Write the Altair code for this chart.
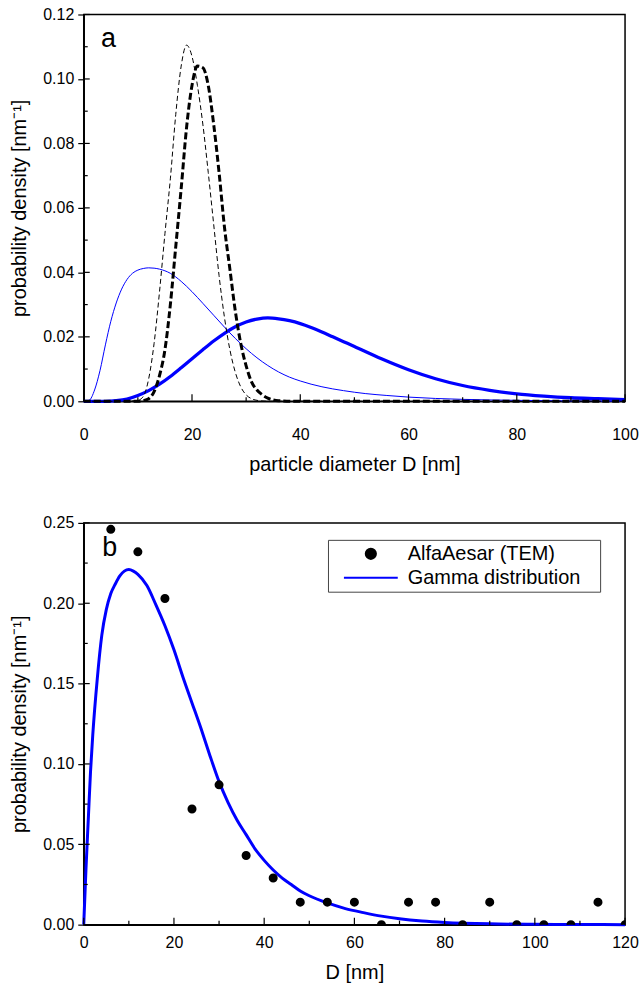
import altair as alt
import pandas as pd

FONT = "Liberation Sans"

# ---------------- Panel a data ----------------
D_thin_blue = [0, 1, 2, 3, 4, 5, 6, 7, 8, 9, 10, 11, 12, 13, 14, 16, 18, 20, 22, 24, 26, 28,
               30, 32, 34, 36, 38, 40, 44, 48, 52, 56, 60, 70, 80, 90, 100]
v_thin_blue = [0, 0.0003, 0.0035, 0.0095, 0.0175, 0.0248, 0.0305, 0.0348, 0.0378, 0.0397,
               0.0407, 0.0412, 0.0414, 0.0413, 0.041, 0.0397, 0.0372, 0.0340, 0.0304, 0.0267,
               0.0230, 0.0195, 0.0163, 0.0135, 0.0111, 0.0091, 0.0075, 0.0063, 0.0045, 0.0033,
               0.0024, 0.0018, 0.0013, 0.0006, 0.0003, 0.0001, 0]

D_thick_blue = [0, 4, 6, 8, 10, 12, 14, 16, 18, 20, 22, 24, 26, 28, 30, 32, 34, 36, 38, 40,
                42, 44, 46, 48, 50, 55, 60, 65, 70, 75, 80, 85, 90, 95, 100]
v_thick_blue = [0, 0.0, 0.0002, 0.0007, 0.0018, 0.0033, 0.0053, 0.0077, 0.0104, 0.0132, 0.016,
                0.0187, 0.0211, 0.0231, 0.0246, 0.0255, 0.0259, 0.0256, 0.0250, 0.0241, 0.0229,
                0.0215, 0.0200, 0.0185, 0.0170, 0.0132, 0.0098, 0.0070, 0.0049, 0.0034, 0.0023,
                0.0016, 0.0011, 0.0008, 0.0005]

D_thin_dash = [0, 8, 10, 11, 12, 13, 14, 15, 16, 17, 18, 19, 20, 21, 22, 23, 24, 25, 26, 27,
               28, 29, 30, 31, 32, 34, 40, 100]
v_thin_dash = [0, 0, 0.0003, 0.0015, 0.007, 0.018, 0.034, 0.052, 0.069, 0.089, 0.104, 0.1105,
               0.107, 0.098, 0.086, 0.071, 0.055, 0.039, 0.026, 0.016, 0.009, 0.0045, 0.002,
               0.0008, 0.0003, 0, 0, 0]

D_thick_dash = [0, 10, 11, 12, 13, 14, 15, 16, 17, 18, 19, 20, 21, 22, 23, 24, 25, 26, 27, 28,
                29, 30, 31, 32, 33, 34, 36, 40, 100]
v_thick_dash = [0, 0, 0.0002, 0.0008, 0.003, 0.008, 0.016, 0.030, 0.048, 0.066, 0.085, 0.098,
                0.1040, 0.1035, 0.098, 0.086, 0.071, 0.054, 0.041, 0.028, 0.018, 0.011, 0.006,
                0.0035, 0.002, 0.001, 0.0002, 0, 0]

# ---------------- Panel b data ----------------
D_gamma = [0, 0.5, 1, 1.5, 2, 3, 4, 5, 6, 7, 8, 9, 10, 11, 12, 14, 16, 18, 20, 22, 24, 26, 28,
           30, 32, 34, 36, 38, 40, 42, 44, 46, 48, 50, 54, 58, 62, 66, 70, 75, 80, 90, 100,
           110, 120]
v_gamma = [0, 0.035, 0.065, 0.095, 0.118, 0.153, 0.180, 0.196, 0.206, 0.212, 0.217, 0.220,
           0.221, 0.220, 0.218, 0.211, 0.199, 0.186, 0.171, 0.154, 0.138, 0.122, 0.105, 0.089,
           0.076, 0.065, 0.056, 0.047, 0.040, 0.034, 0.029, 0.025, 0.021, 0.018, 0.0135, 0.010,
           0.0075, 0.0053, 0.0037, 0.0023, 0.0014, 0.0005, 0.0002, 0.0001, 0]

D_tem = [6, 12, 18, 24, 30, 36, 42, 48, 54, 60, 66, 72, 78, 84, 90, 96, 102, 108, 114, 120]
v_tem = [0.246, 0.232, 0.203, 0.072, 0.087, 0.043, 0.029, 0.014, 0.014, 0.014, 0.0, 0.014,
         0.014, 0.0, 0.014, 0.0, 0.0, 0.0, 0.014, 0.0]

legend_names = ["AlfaAesar (TEM)", "Gamma distribution"]

# ---------------- axis ticks / annotations ----------------
xa_major = [0, 20, 40, 60, 80, 100]
xa_minor = [10, 30, 50, 70, 90]
ya_major = [0, 0.02, 0.04, 0.06, 0.08, 0.10, 0.12]
ya_minor = [0.01, 0.03, 0.05, 0.07, 0.09, 0.11]
xb_major = [0, 20, 40, 60, 80, 100, 120]
xb_minor = [10, 30, 50, 70, 90, 110]
yb_major = [0, 0.05, 0.10, 0.15, 0.20, 0.25]
yb_minor = [0.025, 0.075, 0.125, 0.175, 0.225]

label_a = {"D": [3.2], "v": [0.1098], "t": ["a"]}
label_b = {"D": [4.1], "v": [0.2295], "t": ["b"]}

W = 543
HA = 388
HB = 403


def df(D, v):
    return pd.DataFrame({"D": D, "v": v})


def tick_layers(xe, ye, xmaj, xmin, ymaj, ymin, H):
    layers = []
    for vals, ln in ((xmaj, 7), (xmin, 4)):
        layers.append(
            alt.Chart(pd.DataFrame({"D": vals})).mark_rule(color="black", strokeWidth=1.2).encode(
                x=xe, y=alt.value(H), y2=alt.value(H - ln)))
    for vals, ln in ((ymaj, 6), (ymin, 4)):
        layers.append(
            alt.Chart(pd.DataFrame({"v": vals})).mark_rule(color="black", strokeWidth=1.2).encode(
                y=ye, x=alt.value(0), x2=alt.value(ln)))
    return layers


# ---------------- Panel a ----------------
xa = alt.X("D:Q", scale=alt.Scale(domain=[0, 100], nice=False),
           axis=alt.Axis(values=xa_major, format="d", title="particle diameter D [nm]",
                         ticks=False, tickSize=0, labelPadding=25, titlePadding=12,
                         labelFlush=False))
ya = alt.Y("v:Q", scale=alt.Scale(domain=[0, 0.12], nice=False),
           axis=alt.Axis(values=ya_major, format=".2f", title="probability density [nm⁻¹]",
                         tickSize=6, labelPadding=4, titlePadding=13, labelFlush=False))

a_thin_blue = alt.Chart(df(D_thin_blue, v_thin_blue)).mark_line(
    color="#0000ff", strokeWidth=1, interpolate="monotone").encode(x=xa, y=ya)
a_thick_blue = alt.Chart(df(D_thick_blue, v_thick_blue)).mark_line(
    color="#0000ff", strokeWidth=3.3, interpolate="monotone").encode(x=xa, y=ya)
a_thin_dash = alt.Chart(df(D_thin_dash, v_thin_dash)).mark_line(
    color="black", strokeWidth=1, strokeDash=[5, 3], interpolate="monotone").encode(x=xa, y=ya)
a_thick_dash = alt.Chart(df(D_thick_dash, v_thick_dash)).mark_line(
    color="black", strokeWidth=3, strokeDash=[7, 3], interpolate="monotone").encode(x=xa, y=ya)
a_text = alt.Chart(pd.DataFrame(label_a)).mark_text(
    align="left", baseline="alphabetic", fontSize=27, font=FONT, color="black").encode(
    x=xa, y=ya, text="t:N")

panel_a = alt.layer(
    a_thin_blue, a_thick_blue, a_thin_dash, a_thick_dash, a_text,
    *tick_layers(xa, ya, xa_major, xa_minor, ya_major, ya_minor, HA)
).properties(width=W, height=HA)

# ---------------- Panel b ----------------
xb = alt.X("D:Q", scale=alt.Scale(domain=[0, 120], nice=False),
           axis=alt.Axis(values=xb_major, format="d", title="D [nm]",
                         ticks=False, tickSize=0, labelPadding=10, titlePadding=12,
                         labelFlush=False))
yb = alt.Y("v:Q", scale=alt.Scale(domain=[0, 0.25], nice=False),
           axis=alt.Axis(values=yb_major, format=".2f", title="probability density [nm⁻¹]",
                         tickSize=6, labelPadding=4, titlePadding=13, labelFlush=False))

leg = alt.Legend(title=None, orient="none", legendX=245, legendY=527, labelFontSize=20,
                 labelFont=FONT, labelColor="black", strokeColor="#444", fillColor="white",
                 padding=4, symbolOffset=29, labelOffset=27, symbolStrokeWidth=2.2,
                 rowPadding=4, labelLimit=400,
                 labelExpr="datum.label + '\u2800'")

tem_df = df(D_tem, v_tem)
tem_df["s"] = legend_names[0]

b_gamma = alt.Chart(df(D_gamma, v_gamma)).mark_line(
    color="#0000ff", strokeWidth=3, interpolate="monotone").encode(x=xb, y=yb)
b_pts = alt.Chart(tem_df).mark_point(filled=True, opacity=1, size=50, clip=True).encode(
    x=xb, y=yb,
    fill=alt.Fill("s:N", scale=alt.Scale(domain=legend_names, range=["black", "#0000ff"]), legend=leg),
    stroke=alt.Stroke("s:N", scale=alt.Scale(domain=legend_names, range=["black", "#0000ff"]), legend=leg),
    shape=alt.Shape("s:N", scale=alt.Scale(domain=legend_names, range=["circle", "M-5.4,0L5.4,0"]), legend=leg),
)
b_text = alt.Chart(pd.DataFrame(label_b)).mark_text(
    align="left", baseline="alphabetic", fontSize=27, font=FONT, color="black").encode(
    x=xb, y=yb, text="t:N")

panel_b = alt.layer(
    b_gamma, b_pts, b_text,
    *tick_layers(xb, yb, xb_major, xb_minor, yb_major, yb_minor, HB)
).properties(width=W, height=HB)

chart = alt.vconcat(panel_a, panel_b, spacing=122).properties(
    bounds="flush",
    padding={"left": 9, "top": 4, "right": 0, "bottom": 0},
    background="white",
).configure_view(
    stroke="black", strokeWidth=1.5
).configure_axis(
    labelFont=FONT, titleFont=FONT, labelFontSize=16, titleFontSize=20,
    titleFontWeight="normal", labelColor="black", titleColor="black",
    domainColor="black", domainWidth=1.5, tickColor="black", tickWidth=1.2, grid=False
)

chart.save("out.html", embed_options={"renderer": "svg", "actions": False})
